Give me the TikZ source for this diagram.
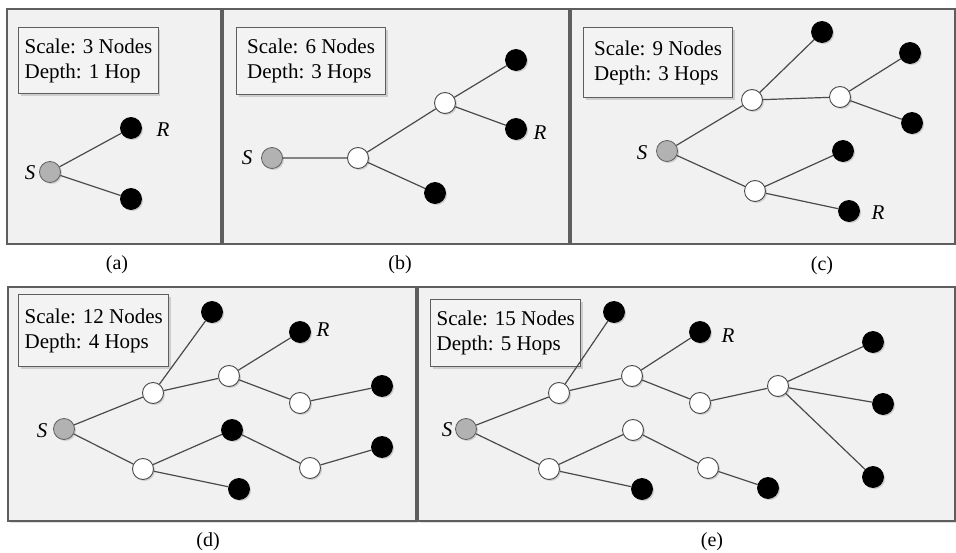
\documentclass[tikz,border=0pt]{standalone}
\usepackage{fontspec}
\setmainfont{Liberation Serif}
\usetikzlibrary{positioning, shadows, calc}
\usepackage{xcolor}
\definecolor{pnlfill}{HTML}{F1F1F1}
\definecolor{pnlline}{HTML}{5E5E5E}
\definecolor{boxfill}{HTML}{F3F3F3}
\definecolor{linkgray}{HTML}{4A4A4A}
\definecolor{srcgray}{HTML}{B2B2B2}

\begin{document}
\begin{tikzpicture}[x=1pt, y=-1pt,
    panel/.style={draw=pnlline, fill=pnlfill, line width=2pt,
          drop shadow={opacity=0.25, shadow xshift=1.5pt, shadow yshift=-1.5pt}},
    infobox/.style={draw=pnlline, fill=boxfill, line width=1.2pt, anchor=north west,
          align=left, inner xsep=6pt, inner ysep=8pt,
          font=\fontsize{21}{25}\selectfont,
          drop shadow={opacity=0.3, shadow xshift=2pt, shadow yshift=-2pt}},
    src/.style={circle, draw=gray!75!black, fill=srcgray, line width=0.8pt,
          minimum size=21pt, inner sep=0pt,
          drop shadow={opacity=0.3, shadow xshift=1.5pt, shadow yshift=-1.5pt}},
    relay/.style={circle, draw=linkgray, fill=white, line width=0.9pt,
          minimum size=21pt, inner sep=0pt,
          drop shadow={opacity=0.3, shadow xshift=1.5pt, shadow yshift=-1.5pt}},
    dst/.style={circle, draw=black, fill=black, line width=0.8pt,
          minimum size=21pt, inner sep=0pt,
          drop shadow={opacity=0.35, shadow xshift=1.5pt, shadow yshift=-1.5pt}},
    link/.style={draw=linkgray, line width=1.2pt},
    tag/.style={font=\fontsize{21}{25}\selectfont\itshape, inner sep=0pt},
    caption/.style={font=\fontsize{20}{24}\selectfont, inner sep=0pt}]

  \useasboundingbox (0,0) rectangle (956,553);
  \fill[white] (0,0) rectangle (956,553);

  % frames of the five panels
  \draw[panel] (7,9) rectangle (221,244);
  \draw[panel] (223,9) rectangle (569,244);
  \draw[panel] (571,9) rectangle (955,244);
  \draw[panel] (8,287) rectangle (416,521);
  \draw[panel] (418,287) rectangle (955,521);

  \node[caption] (capA) at (117,265) {(a)};
  \node[caption] (capB) at (400,265) {(b)};
  \node[caption] (capC) at (822,266) {(c)};
  \node[caption] (capD) at (208,542) {(d)};
  \node[caption] (capE) at (712,542) {(e)};

  % (a) one hop
  \node[infobox, minimum width=139pt, minimum height=66pt] (boxA) at (18,27)
        {Scale: 3 Nodes\\Depth: 1 Hop};
  \node[src] (aS) at (50,172) {};
  \node[dst] (aR) at (131,128) {};
  \node[dst] (aD) at (131,199) {};
  \node[tag] (aSl) at (30,173) {S};
  \node[tag] (aRl) at (163,130) {R};
  \draw[link] (aS) -- (aR) (aS) -- (aD);

  % (b) three hops
  \node[infobox, minimum width=149pt, minimum height=67pt] (boxB) at (236,27)
        {Scale: 6 Nodes\\Depth: 3 Hops};
  \node[src] (bS) at (272,158) {};
  \node[relay] (bW1) at (358,158) {};
  \node[relay] (bW2) at (445,103) {};
  \node[dst] (bT) at (516,60) {};
  \node[dst] (bR) at (516,129) {};
  \node[dst] (bB) at (435,193) {};
  \node[tag] (bSl) at (247,158) {S};
  \node[tag] (bRl) at (540,133) {R};
  \draw[link] (bS) -- (bW1) -- (bW2) -- (bT) (bW2) -- (bR) (bW1) -- (bB);

  % (c) nine nodes
  \node[infobox, minimum width=149pt, minimum height=70pt] (boxC) at (583,27)
        {Scale: 9 Nodes\\Depth: 3 Hops};
  \node[src] (cS) at (667,151) {};
  \node[relay] (cW1) at (752,100) {};
  \node[relay] (cW2) at (840,97) {};
  \node[relay] (cW3) at (755,191) {};
  \node[dst] (cT) at (822,32) {};
  \node[dst] (cA) at (910,53) {};
  \node[dst] (cB) at (912,123) {};
  \node[dst] (cC) at (843,151) {};
  \node[dst] (cR) at (849,211) {};
  \node[tag] (cSl) at (642,153) {S};
  \node[tag] (cRl) at (878,213) {R};
  \draw[link] (cS) -- (cW1) -- (cT) (cW1) -- (cW2) -- (cA) (cW2) -- (cB);
  \draw[link] (cS) -- (cW3) -- (cC) (cW3) -- (cR);

  % (d) four hops
  \node[infobox, minimum width=149pt, minimum height=72pt] (boxD) at (18,294)
        {Scale: 12 Nodes\\Depth: 4 Hops};
  \node[src] (dS) at (64,429) {};
  \node[relay] (dW1) at (153,393) {};
  \node[relay] (dW2) at (229,376) {};
  \node[relay] (dW3) at (300,403) {};
  \node[relay] (dW4) at (143,469) {};
  \node[relay] (dW5) at (310,468) {};
  \node[dst] (dT) at (212,312) {};
  \node[dst] (dR) at (300,332) {};
  \node[dst] (dA) at (382,386) {};
  \node[dst] (dM) at (232,430) {};
  \node[dst] (dB) at (239,489) {};
  \node[dst] (dC) at (382,447) {};
  \node[tag] (dSl) at (42,431) {S};
  \node[tag] (dRl) at (323,330) {R};
  \draw[link] (dS) -- (dW1) -- (dT) (dW1) -- (dW2) -- (dR) (dW2) -- (dW3) -- (dA);
  \draw[link] (dS) -- (dW4) -- (dM) -- (dW5) -- (dC) (dW4) -- (dB);

  % (e) five hops
  \node[infobox, minimum width=143pt, minimum height=67pt] (boxE) at (430,299)
        {Scale: 15 Nodes\\Depth: 5 Hops};
  \node[src] (eS) at (466,429) {};
  \node[relay] (eW1) at (559,393) {};
  \node[relay] (eW2) at (632,376) {};
  \node[relay] (eW3) at (700,403) {};
  \node[relay] (eW4) at (778,386) {};
  \node[relay] (eW5) at (549,469) {};
  \node[relay] (eW6) at (633,430) {};
  \node[relay] (eW7) at (708,468) {};
  \node[dst] (eT) at (614,312) {};
  \node[dst] (eR) at (700,332) {};
  \node[dst] (eA) at (873,342) {};
  \node[dst] (eB) at (883,404) {};
  \node[dst] (eC) at (873,477) {};
  \node[dst] (eD) at (642,489) {};
  \node[dst] (eE) at (768,488) {};
  \node[tag] (eSl) at (447,430) {S};
  \node[tag] (eRl) at (728,336) {R};
  \draw[link] (eS) -- (eW1) -- (eT) (eW1) -- (eW2) -- (eR) (eW2) -- (eW3) -- (eW4) -- (eA)
        (eW4) -- (eB) (eW4) -- (eC);
  \draw[link] (eS) -- (eW5) -- (eW6) -- (eW7) -- (eE) (eW5) -- (eD);
\end{tikzpicture}
\end{document}
